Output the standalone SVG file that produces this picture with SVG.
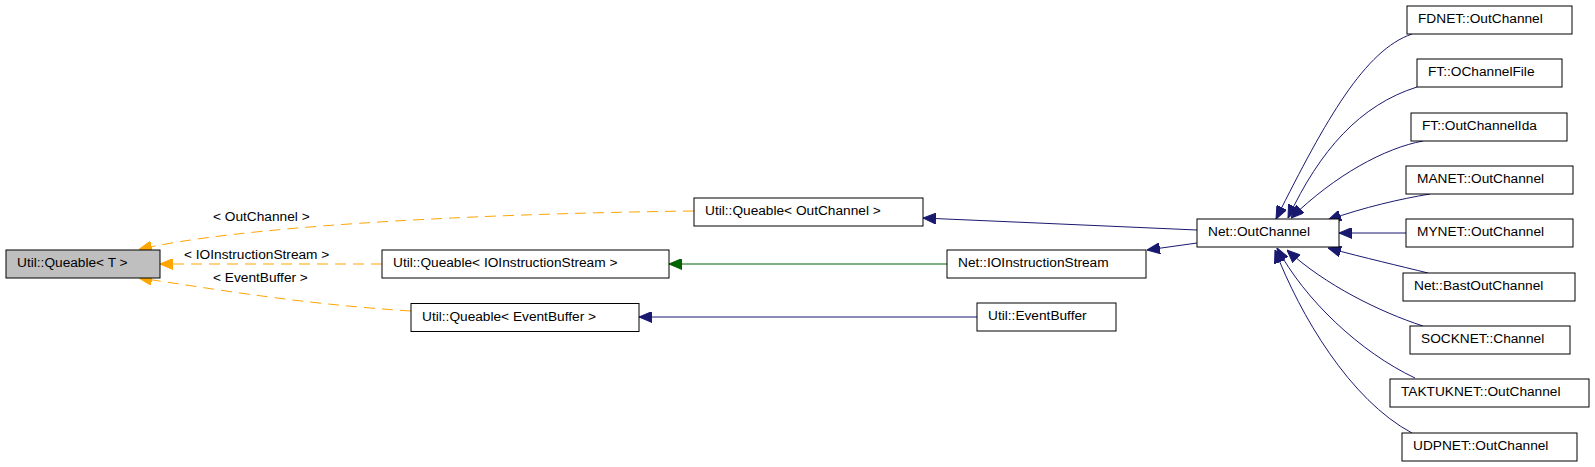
<svg xmlns="http://www.w3.org/2000/svg" width="1595" height="467" viewBox="0 0 1595 467">
<style>
.n rect{fill:#ffffff;stroke:#000000;stroke-width:1}
.n.g rect{fill:#bfbfbf}
text{font-family:"Liberation Sans",Arial,sans-serif;font-size:13.7px;fill:#000000}
.e{fill:none;stroke-width:1}
.b{stroke:#191970;marker-end:url(#ab)}
.gr{stroke:#006400;marker-end:url(#ag)}
.o{stroke:#ffa500;stroke-dasharray:11,7;marker-end:url(#ao)}
</style>
<defs>
<marker id="ab" markerUnits="userSpaceOnUse" viewBox="0 0 13 11" markerWidth="13" markerHeight="11" refX="13" refY="5.5" orient="auto"><path d="M0,0 L13,5.5 L0,11 z" fill="#191970" stroke="#191970"/></marker>
<marker id="ag" markerUnits="userSpaceOnUse" viewBox="0 0 13 11" markerWidth="13" markerHeight="11" refX="13" refY="5.5" orient="auto"><path d="M0,0 L13,5.5 L0,11 z" fill="#006400" stroke="#006400"/></marker>
<marker id="ao" markerUnits="userSpaceOnUse" viewBox="0 0 13 11" markerWidth="13" markerHeight="11" refX="13" refY="5.5" orient="auto"><path d="M0,0 L13,5.5 L0,11 z" fill="#ffa500" stroke="#ffa500"/></marker>
</defs>
<rect width="1595" height="467" fill="#ffffff"/>
<g id="edges">
<path class="e o" d="M694,211 C450,214 230,228 139,249.5"/>
<path class="e o" d="M382,264 L160,264"/>
<path class="e o" d="M411,311 C300,304 215,289 139,278"/>
<path class="e b" d="M1197,230 L923,218"/>
<path class="e b" d="M1197,243 L1147,250"/>
<path class="e gr" d="M947,264 L669,264"/>
<path class="e b" d="M977,317 L639,317"/>
<path class="e b" d="M1412,34 C1365,50 1326,119 1276,219"/>
<path class="e b" d="M1417,87 C1360,105 1320,150 1288,218"/>
<path class="e b" d="M1423,141 C1385,148 1335,175 1291,218"/>
<path class="e b" d="M1430,194 C1400,199 1365,207 1328,220"/>
<path class="e b" d="M1406,233 L1339,233"/>
<path class="e b" d="M1428,273 C1400,266 1365,258 1328,248"/>
<path class="e b" d="M1423,326 C1380,312 1325,285 1287,250"/>
<path class="e b" d="M1415,378 C1360,352 1305,300 1277,248"/>
<path class="e b" d="M1412,433 C1350,400 1300,315 1275,250"/>
<text x="213" y="220.5">&lt; OutChannel &gt;</text>
<text x="184" y="259">&lt; IOInstructionStream &gt;</text>
<text x="213" y="281.5">&lt; EventBuffer &gt;</text>
</g>
<g id="n_queable_t" class="n g"><rect x="6" y="250" width="154" height="28"/><text x="17" y="267">Util::Queable&lt; T &gt;</text></g>
<g id="n_queable_outchannel" class="n"><rect x="694" y="198" width="229" height="28"/><text x="705" y="215">Util::Queable&lt; OutChannel &gt;</text></g>
<g id="n_queable_ioinstr" class="n"><rect x="382" y="250" width="287" height="28"/><text x="393" y="267">Util::Queable&lt; IOInstructionStream &gt;</text></g>
<g id="n_queable_eventbuffer" class="n"><rect x="411" y="303.5" width="228" height="28"/><text x="422" y="320.5">Util::Queable&lt; EventBuffer &gt;</text></g>
<g id="n_net_outchannel" class="n"><rect x="1197" y="219" width="142" height="28"/><text x="1208" y="236">Net::OutChannel</text></g>
<g id="n_net_ioinstr" class="n"><rect x="947" y="250" width="199" height="28"/><text x="958" y="267">Net::IOInstructionStream</text></g>
<g id="n_util_eventbuffer" class="n"><rect x="977" y="303" width="139" height="28"/><text x="988" y="320">Util::EventBuffer</text></g>
<g id="n_fdnet" class="n"><rect x="1407" y="6" width="165" height="28"/><text x="1418" y="23">FDNET::OutChannel</text></g>
<g id="n_ft_ochannelfile" class="n"><rect x="1417" y="59" width="145" height="28"/><text x="1428" y="76">FT::OChannelFile</text></g>
<g id="n_ft_outchannelida" class="n"><rect x="1411" y="113" width="156" height="28"/><text x="1422" y="130">FT::OutChannelIda</text></g>
<g id="n_manet" class="n"><rect x="1406" y="166" width="167" height="28"/><text x="1417" y="183">MANET::OutChannel</text></g>
<g id="n_mynet" class="n"><rect x="1406" y="219" width="167" height="28"/><text x="1417" y="236">MYNET::OutChannel</text></g>
<g id="n_bast" class="n"><rect x="1403" y="273" width="172" height="28"/><text x="1414" y="290">Net::BastOutChannel</text></g>
<g id="n_socknet" class="n"><rect x="1410" y="326" width="160" height="28"/><text x="1421" y="343">SOCKNET::Channel</text></g>
<g id="n_taktuknet" class="n"><rect x="1390" y="379" width="199" height="28"/><text x="1401" y="396">TAKTUKNET::OutChannel</text></g>
<g id="n_udpnet" class="n"><rect x="1402" y="433" width="175" height="28"/><text x="1413" y="450">UDPNET::OutChannel</text></g>
</svg>
